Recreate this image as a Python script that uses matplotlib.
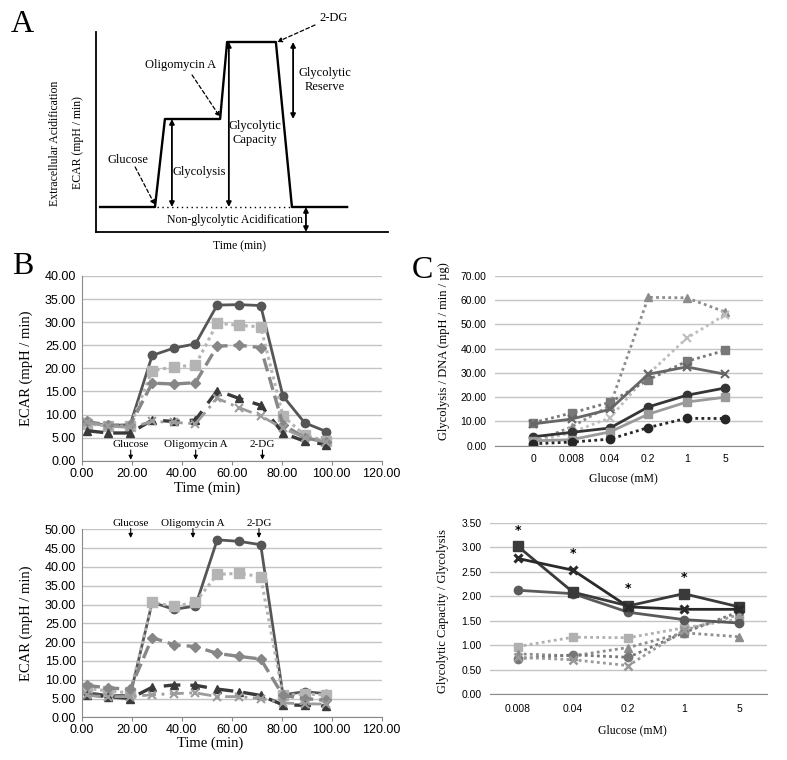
import matplotlib
matplotlib.use('Agg')
import matplotlib.pyplot as plt
from matplotlib.ticker import FormatStrFormatter

SERIF = 'Liberation Serif'
SANS = 'Liberation Sans'
W, H = 787, 760

# ---- panel A: schematic glycolysis stress test trace
a_time = [1.4, 20.2, 23.6, 42.5, 44.9, 61.6, 67.1, 86.0]
a_ecar = [12.5, 12.5, 56.5, 56.5, 95.0, 95.0, 12.5, 12.5]
a_base = 12.5
a_glycolysis = 56.5
a_capacity = 95.0

# ---- panel B: ECAR traces
b_time = [2.0, 10.7, 19.4, 28.2, 36.9, 45.5, 54.2, 62.9, 71.6, 80.5, 89.2, 97.9]
b1_circle = [8.3, 7.6, 7.8, 22.8, 24.4, 25.3, 33.7, 33.8, 33.6, 14.0, 8.2, 6.3]
b1_square = [8.0, 7.5, 7.5, 19.5, 20.3, 20.7, 29.8, 29.3, 29.0, 9.7, 5.5, 4.3]
b1_diamond = [8.5, 7.7, 7.7, 16.8, 16.6, 16.9, 24.8, 25.0, 24.5, 7.8, 5.0, 4.0]
b1_triangle = [6.5, 6.0, 6.0, 8.8, 8.5, 8.8, 15.2, 13.5, 12.0, 6.0, 4.2, 3.5]
b1_cross = [8.3, 7.5, 7.2, 8.5, 8.3, 8.0, 13.5, 11.5, 9.7, 7.0, 5.0, 4.0]

b2_circle = [6.6, 5.8, 5.8, 30.6, 28.7, 29.6, 47.2, 46.8, 45.9, 6.0, 6.8, 6.3]
b2_square = [7.7, 7.0, 6.5, 30.6, 29.5, 30.6, 38.0, 38.3, 37.4, 5.8, 6.2, 5.9]
b2_diamond = [8.5, 7.8, 7.5, 21.2, 19.3, 18.8, 17.0, 16.2, 15.5, 5.8, 5.0, 4.5]
b2_triangle = [6.0, 5.5, 5.0, 8.0, 8.6, 8.5, 7.5, 6.8, 5.8, 3.3, 3.2, 3.0]
b2_cross = [5.8, 5.5, 5.5, 6.0, 6.3, 6.5, 5.5, 5.5, 5.0, 3.8, 3.6, 3.5]

b_ticks_x = [0, 20, 40, 60, 80, 100, 120]
injections = ['Glucose', 'Oligomycin A', '2-DG']
b1_inject_t = [19.6, 45.6, 72.3]
b2_inject_t = [19.6, 44.5, 70.9]

# ---- panel C
c1_glucose = ['0', '0.008', '0.04', '0.2', '1', '5']
c1_tri_dot = [1.5, 7.8, 16.5, 61.2, 61.0, 55.2]
c1_x_light = [1.5, 5.5, 11.5, 29.5, 44.3, 54.0]
c1_sq_dot = [9.5, 13.5, 17.9, 27.2, 34.8, 39.3]
c1_x_solid = [9.0, 11.0, 15.0, 29.5, 32.5, 29.5]
c1_circ_solid = [3.7, 5.5, 7.3, 16.0, 20.8, 23.8]
c1_sq_solid = [2.0, 2.5, 5.7, 13.0, 18.0, 20.0]
c1_circ_dot = [0.8, 1.5, 2.7, 7.5, 11.3, 11.2]

c2_glucose = ['0.008', '0.04', '0.2', '1', '5']
c2_sq_solid = [3.02, 2.08, 1.80, 2.05, 1.78]
c2_x_solid = [2.77, 2.53, 1.78, 1.73, 1.73]
c2_circ_solid = [2.12, 2.05, 1.67, 1.52, 1.45]
c2_sq_dot = [0.97, 1.16, 1.15, 1.35, 1.53]
c2_tri_dot = [0.82, 0.78, 0.95, 1.25, 1.17]
c2_circ_dot = [0.72, 0.80, 0.75, 1.25, 1.68]
c2_x_dot = [0.75, 0.70, 0.58, 1.30, 1.62]
c2_star_idx = [0, 1, 2, 3]
c2_star_y = [3.34, 2.88, 2.15, 2.38]

GRID = '#c4c4c4'


def px_axes(l, t, r, b):
    return fig.add_axes([l / W, 1 - b / H, (r - l) / W, (b - t) / H])


def style_excel(ax, left_spine):
    ax.grid(axis='y', color=GRID, lw=1)
    ax.set_axisbelow(True)
    for s in ['top', 'right']:
        ax.spines[s].set_visible(False)
    ax.spines['left'].set_visible(left_spine)
    ax.spines['left'].set_color('#8a8a8a')
    ax.spines['bottom'].set_color('#8a8a8a')
    ax.tick_params(axis='y', length=0)
    for lab in ax.get_xticklabels() + ax.get_yticklabels():
        lab.set_family(SANS)


fig = plt.figure(figsize=(W / 100, H / 100), dpi=100)

# ================= Panel A =================
axA = px_axes(96, 32, 388, 232)
axA.set_xlim(0, 100)
axA.set_ylim(0, 100)
for s in ['top', 'right']:
    axA.spines[s].set_visible(False)
axA.spines['left'].set_linewidth(1.3)
axA.spines['bottom'].set_linewidth(1.3)
axA.set_xticks([])
axA.set_yticks([])
axA.plot(a_time, a_ecar, color='black', lw=1.7)
axA.plot([a_time[1] + 0.7, a_time[6]], [a_base, a_base], color='black', lw=1, ls=(0, (1, 2.5)))

dbl = dict(arrowstyle='<|-|>', color='black', lw=1.3, mutation_scale=7, shrinkA=0, shrinkB=0)
axA.annotate('', xy=(26.0, a_base), xytext=(26.0, a_glycolysis), arrowprops=dbl)
axA.annotate('', xy=(45.5, a_base), xytext=(45.5, a_capacity), arrowprops=dbl)
axA.annotate('', xy=(67.5, a_glycolysis), xytext=(67.5, a_capacity), arrowprops=dbl)
axA.annotate('', xy=(71.9, 0), xytext=(71.9, a_base), arrowprops=dbl, annotation_clip=False)

dsh = dict(arrowstyle='-|>', color='black', lw=0.9, ls=(0, (3, 2)), mutation_scale=7, shrinkA=0, shrinkB=0)
axA.annotate('', xy=(20.2, 13.5), xytext=(13.4, 32.5), arrowprops=dsh)
axA.annotate('', xy=(42.5, 57.5), xytext=(32.9, 78.5), arrowprops=dsh)
axA.annotate('', xy=(62.0, 95.0), xytext=(75.0, 103.5), arrowprops=dsh, annotation_clip=False)

tA = dict(family=SERIF, fontsize=9, ha='center', va='center')
axA.text(81.5, 107, '2-DG', clip_on=False, **tA)
axA.text(28.8, 83.5, 'Oligomycin A', **tA)
axA.text(78.4, 76, 'Glycolytic\nReserve', linespacing=1.3, **tA)
axA.text(54.5, 49.5, 'Glycolytic\nCapacity', linespacing=1.3, **tA)
axA.text(11.0, 36, 'Glucose', **tA)
axA.text(35.3, 30, 'Glycolysis', **tA)
axA.text(47.6, 6, 'Non-glycolytic Acidification', family=SERIF, fontsize=8.5, ha='center', va='center')
axA.text(49.3, -7, 'Time (min)', family=SERIF, fontsize=8.5, ha='center', va='center', clip_on=False)
axA.text(-14.0, 44.5, 'Extracellular Acidification', family=SERIF, fontsize=8.5, rotation=90,
         ha='center', va='center', clip_on=False)
axA.text(-6.2, 44.5, 'ECAR (mpH / min)', family=SERIF, fontsize=8.5, rotation=90,
         ha='center', va='center', clip_on=False)

fig.text(22 / W, 1 - 24 / H, 'A', family=SERIF, fontsize=23, ha='center', va='center')
fig.text(23 / W, 1 - 267 / H, 'B', family=SERIF, fontsize=23, ha='center', va='center')
fig.text(422 / W, 1 - 270 / H, 'C', family=SERIF, fontsize=23, ha='center', va='center')

# ================= Panel B =================
b_styles = [
    dict(color='#565656', ls='-', lw=2.0, marker='o', ms=6),
    dict(color='#b4b4b4', ls=(0, (1, 1.2)), lw=2.2, marker='s', ms=7),
    dict(color='#878787', ls=(0, (4, 1.8)), lw=2.4, marker='D', ms=5),
    dict(color='#3a3a3a', ls=(0, (5, 3)), lw=2.4, marker='^', ms=6),
    dict(color='#9c9c9c', ls=(0, (5, 2, 1, 2)), lw=2.0, marker='x', ms=6, mew=1.5),
]


def draw_b(ax, series, ymax):
    for ys, st in zip(series, b_styles):
        ax.plot(b_time, ys, **st)
    ax.set_xlim(0, 120)
    ax.set_ylim(0, ymax)
    ax.set_xticks(b_ticks_x)
    ax.set_yticks(range(0, ymax + 1, 5))
    ax.xaxis.set_major_formatter(FormatStrFormatter('%.2f'))
    ax.yaxis.set_major_formatter(FormatStrFormatter('%.2f'))
    ax.tick_params(axis='x', length=3, color='#8a8a8a', labelsize=9, pad=2)
    ax.tick_params(axis='y', labelsize=9, pad=4)
    style_excel(ax, True)
    ax.set_ylabel('ECAR (mpH / min)', family=SERIF, fontsize=10.5)
    ax.set_xlabel('Time (min)', family=SERIF, fontsize=10.5)


axB1 = px_axes(81.7, 276, 381.7, 460.7)
draw_b(axB1, [b1_circle, b1_square, b1_diamond, b1_triangle, b1_cross], 40)
axB1.yaxis.set_label_coords(-0.162, 0.5)
axB1.xaxis.set_label_coords(0.417, -0.114)
arr = dict(arrowstyle='-|>', color='black', lw=0.8, mutation_scale=6, shrinkA=0, shrinkB=0)
for name, t in zip(injections, b1_inject_t):
    axB1.text(t, 2.6, name, family=SERIF, fontsize=8, ha='center', va='bottom')
    axB1.annotate('', xy=(t, 0.2), xytext=(t, 2.3), arrowprops=arr)

axB2 = px_axes(81.7, 529.3, 381.7, 717.3)
draw_b(axB2, [b2_circle, b2_square, b2_diamond, b2_triangle, b2_cross], 50)
axB2.yaxis.set_label_coords(-0.162, 0.5)
axB2.xaxis.set_label_coords(0.428, -0.103)
for name, t in zip(injections, b2_inject_t):
    axB2.text(t, 50.3, name, family=SERIF, fontsize=8, ha='center', va='bottom', clip_on=False)
    axB2.annotate('', xy=(t, 47.7), xytext=(t, 50.2), arrowprops=arr, annotation_clip=False)

# ================= Panel C =================
axC1 = px_axes(495, 276, 763.3, 445.7)
xc1 = range(len(c1_glucose))
axC1.plot(xc1, c1_tri_dot, color='#8c8c8c', ls=(0, (1, 1.2)), lw=2, marker='^', ms=6)
axC1.plot(xc1, c1_x_light, color='#bdbdbd', ls=(0, (1, 1.2)), lw=2, marker='x', ms=6, mew=1.5)
axC1.plot(xc1, c1_sq_dot, color='#787878', ls=(0, (1, 1.2)), lw=2, marker='s', ms=6)
axC1.plot(xc1, c1_x_solid, color='#666666', ls='-', lw=2, marker='x', ms=6, mew=1.5)
axC1.plot(xc1, c1_circ_solid, color='#353535', ls='-', lw=2, marker='o', ms=6)
axC1.plot(xc1, c1_sq_solid, color='#9a9a9a', ls='-', lw=2, marker='s', ms=6)
axC1.plot(xc1, c1_circ_dot, color='#262626', ls=(0, (1, 1.2)), lw=2, marker='o', ms=6)
axC1.set_xlim(-1, 6)
axC1.set_ylim(0, 70)
axC1.set_xticks(list(xc1))
axC1.set_xticklabels(c1_glucose)
axC1.set_yticks(range(0, 71, 10))
axC1.yaxis.set_major_formatter(FormatStrFormatter('%.2f'))
axC1.tick_params(axis='x', length=0, labelsize=7.5, pad=6)
axC1.tick_params(axis='y', labelsize=7.5, pad=6)
style_excel(axC1, False)
axC1.set_ylabel('Glycolysis / DNA (mpH / min / µg)', family=SERIF, fontsize=9)
axC1.set_xlabel('Glucose (mM)', family=SERIF, fontsize=8.5)
axC1.yaxis.set_label_coords(-0.168, 0.558)
axC1.xaxis.set_label_coords(0.48, -0.157)

axC2 = px_axes(490, 522.7, 766.7, 694)
xc2 = range(len(c2_glucose))
axC2.plot(xc2, c2_sq_dot, color='#b0b0b0', ls=(0, (1, 1.2)), lw=2, marker='s', ms=6)
axC2.plot(xc2, c2_tri_dot, color='#8c8c8c', ls=(0, (1, 1.2)), lw=2, marker='^', ms=6)
axC2.plot(xc2, c2_circ_dot, color='#777777', ls=(0, (1, 1.2)), lw=2, marker='o', ms=6)
axC2.plot(xc2, c2_x_dot, color='#999999', ls=(0, (1, 1.2)), lw=2, marker='x', ms=6, mew=1.8)
axC2.plot(xc2, c2_circ_solid, color='#5a5a5a', ls='-', lw=2, marker='o', ms=6)
axC2.plot(xc2, c2_sq_solid, color='#3a3a3a', ls='-', lw=2, marker='s', ms=6.5)
axC2.plot(xc2, c2_x_solid, color='#2a2a2a', ls='-', lw=2, marker='x', ms=6, mew=2.2)
for i, y in zip(c2_star_idx, c2_star_y):
    axC2.text(i, y, '*', fontsize=9, fontweight='bold', ha='center', va='center', family='DejaVu Sans')
axC2.set_xlim(-0.5, 4.5)
axC2.set_ylim(0, 3.5)
axC2.set_xticks(list(xc2))
axC2.set_xticklabels(c2_glucose)
axC2.set_yticks([0, 0.5, 1.0, 1.5, 2.0, 2.5, 3.0, 3.5])
axC2.yaxis.set_major_formatter(FormatStrFormatter('%.2f'))
axC2.tick_params(axis='x', length=0, labelsize=7.5, pad=7)
axC2.tick_params(axis='y', labelsize=7.5, pad=6)
style_excel(axC2, False)
axC2.set_ylabel('Glycolytic Capacity / Glycolysis', family=SERIF, fontsize=9)
axC2.set_xlabel('Glucose (mM)', family=SERIF, fontsize=8.5)
axC2.yaxis.set_label_coords(-0.147, 0.486)
axC2.xaxis.set_label_coords(0.514, -0.175)

fig.savefig('out.png', dpi=100)
